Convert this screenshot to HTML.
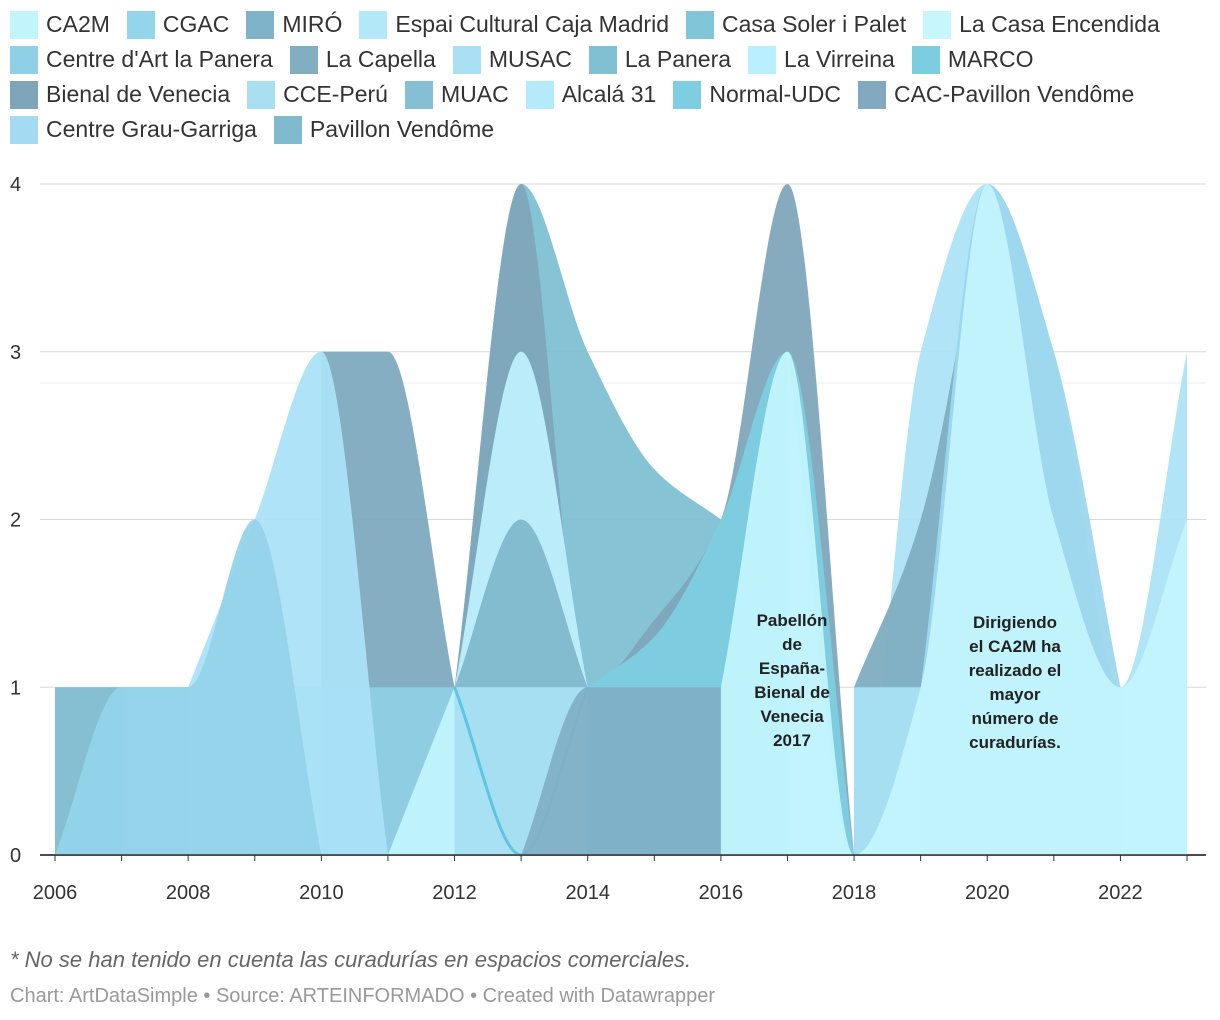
<!DOCTYPE html>
<html><head><meta charset="utf-8"><style>
body{margin:0;width:1220px;height:1020px;background:#fff;font-family:"Liberation Sans",sans-serif;overflow:hidden;position:relative}
#legend{position:absolute;left:10px;top:10px;width:1205px;display:flex;flex-wrap:wrap;row-gap:6px;font-size:23px;color:#333}
.li{display:flex;align-items:center;margin-right:17px;height:29px}
.sw{width:28px;height:28px;margin-right:8px}
svg{position:absolute;left:0;top:0}
.note{position:absolute;left:10px;font-size:22px}
</style></head><body>
<div id="legend"></div>
<svg id="chart" width="1220" height="1020"></svg>
<div class="note" style="top:947px;color:#666;font-style:italic">* No se han tenido en cuenta las curadurías en espacios comerciales.</div>
<div class="note" style="top:985px;color:#999;font-size:20px">Chart: ArtDataSimple • Source: ARTEINFORMADO • Created with Datawrapper</div>
<script>
const legendNames=["CA2M","CGAC","MIRÓ","Espai Cultural Caja Madrid","Casa Soler i Palet","La Casa Encendida","Centre d'Art la Panera","La Capella","MUSAC","La Panera","La Virreina","MARCO","Bienal de Venecia","CCE-Perú","MUAC","Alcalá 31","Normal-UDC","CAC-Pavillon Vendôme","Centre Grau-Garriga","Pavillon Vendôme"];
const legendColors=["#c2f4fc","#95d5ec","#7fb3c8","#b3e8f8","#80c5d8","#c7f6fc","#8fd0e6","#82aec2","#a9e0f3","#80c0d2","#b9efff","#7ccde0","#7fa5bb","#a8e0f2","#85bfd3","#b5eafb","#7fcde0","#82a9c0","#a5daf3","#7fbace"];
const years=[2006,2007,2008,2009,2010,2011,2012,2013,2014,2015,2016,2017,2018,2019,2020,2021,2022,2023];
const N=null;
const sTeal06=[1,1,N,N,N,N,N,N,N,N,N,N,N,N,N,N,N,N];
const sBienal=[N,N,N,N,3,3,1,N,N,N,N,N,N,N,N,N,N,N];
const sCentre=[0,1,1,1,1,1,1,N,N,N,N,N,N,N,N,N,N,N];
const sMUSAC=[N,N,1,2,3,0,N,N,N,N,N,N,N,N,N,N,N,N];
const sCGAC=[0,1,1,2,0,N,N,N,N,N,N,N,N,N,N,N,N,N];
const sCasa=[N,N,N,N,N,0,1,N,N,N,N,N,N,N,N,N,N,N];
const sMARCO=[N,N,N,N,N,N,1,4,3,2.3,2,N,N,N,N,N,N,N];
const sCapella=[N,N,N,N,N,N,1,4,1,1.4,2,4,0,N,N,N,N,N];
const sPanera=[N,N,N,N,N,N,1,3,1,N,N,N,N,N,N,N,N,N];
const sMUAC=[N,N,N,N,N,N,1,2,1,N,N,N,N,N,N,N,N,N];
const sNormal=[N,N,N,N,N,N,N,N,1,1.3,2,3,0,N,N,N,N,N];
const sAlcala=[N,N,N,N,N,N,1,1,1,N,N,N,N,N,N,N,N,N];
const sCCE=[N,N,N,N,N,N,1,0,1,N,N,N,N,N,N,N,N,N];
const sLow=[N,N,N,N,N,N,N,0,1,1,1,N,N,N,N,N,N,N];
const sLate=[N,N,N,N,N,N,N,N,N,N,N,3,0,3,4,3,1,3];
const sLate3=[N,N,N,N,N,N,N,N,N,N,N,N,1,2,4,N,N,N];
const sGrau=[N,N,N,N,N,N,N,N,N,N,N,N,1,1,N,N,N,N];
const sLate2=[N,N,N,N,N,N,N,N,N,N,N,N,N,1,4,3,1,N];
const sCA2M=[N,N,N,N,N,N,N,N,N,N,1,3,0,1,4,2,1,2];
const seriesList=[[sTeal06,"#80bcd0"],[sBienal,"#80aabf"],[sCentre,"#8fcfe4"],[sMUSAC,"#aae2f8"],[sCGAC,"#93d3ea"],[sCasa,"#c2f4fc"],[sMARCO,"#80c0d2"],[sCapella,"#7fa7bc"],[sPanera,"#bdeffc"],[sMUAC,"#80b8cc"],[sNormal,"#7ccde0"],[sAlcala,"#a9e0f3"],[sCCE,"#a9e0f3","#5ec4e6"],[sLow,"#80b0c6"],[sLate,"#aee3f7"],[sLate3,"#80adc2"],[sGrau,"#a8e0f4"],[sLate2,"#9dd7ee"],[sCA2M,"#c2f4fc"]];
const yTicks=[0,1,2,3,4];
const xTicks=[2006,2008,2010,2012,2014,2016,2018,2020,2022];
const X=y=>55+(y-2006)*(1187-55)/17, Y=v=>855-v*(855-184)/4;
const svg=document.getElementById('chart'),NS="http://www.w3.org/2000/svg";
function mk(t,a,p){const e=document.createElementNS(NS,t);for(const k in a)e.setAttribute(k,a[k]);(p||svg).appendChild(e);return e}
const lg=document.getElementById('legend');
legendNames.forEach((n,i)=>{const d=document.createElement('div');d.className='li';


d.innerHTML='<div class="sw" style="background:'+legendColors[i]+'"></div>'+n;lg.appendChild(d);});
yTicks.forEach(v=>{const l=mk('line',{x1:40,x2:1206,y1:Y(v),y2:Y(v),stroke:v?'#d9d9d9':'#333','stroke-width':v?1:1.5});


const t=mk('text',{x:10,y:Y(v)+7,'font-size':20,fill:'#333'});t.textContent=v;

});
mk('line',{x1:40,x2:1206,y1:383,y2:383,stroke:'#eee'});
function mono(pts){const n=pts.length,d=[],m=[];
for(let i=0;i<n-1;i++)d.push((pts[i+1][1]-pts[i][1])/(pts[i+1][0]-pts[i][0]));
for(let i=0;i<n;i++){if(i==0)m.push(d[0]);else if(i==n-1)m.push(d[n-2]);else m.push(d[i-1]*d[i]<=0?0:2/(1/d[i-1]+1/d[i]));}
let s='';for(let i=0;i<n-1;i++){const h=pts[i+1][0]-pts[i][0];
s+=` C${pts[i][0]+h/3},${pts[i][1]+m[i]*h/3} ${pts[i+1][0]-h/3},${pts[i+1][1]-m[i+1]*h/3} ${pts[i+1][0]},${pts[i+1][1]}`;}return s;}
seriesList.forEach(([vals,col,stroke])=>{const pts=[];vals.forEach((v,i)=>{if(v!==null)pts.push([X(years[i]),Y(v)])});
const p='M'+pts[0][0]+','+Y(0)+' L'+pts[0][0]+','+pts[0][1]+mono(pts)+' L'+pts[pts.length-1][0]+','+Y(0)+'Z';
const e=mk('path',{d:p,fill:col,'fill-opacity':0.95});


if(stroke){const l=mk('path',{d:'M'+pts[0][0]+','+pts[0][1]+mono(pts),fill:'none',stroke:stroke,'stroke-width':3});

}});
mk('line',{x1:40,x2:1206,y1:Y(0),y2:Y(0),stroke:'#333','stroke-width':1.5});
years.forEach(y=>mk('line',{x1:X(y),x2:X(y),y1:Y(0),y2:Y(0)+6,stroke:'#333'}));
xTicks.forEach(y=>{const t=mk('text',{x:X(y),y:899,'font-size':20,fill:'#333','text-anchor':'middle'});t.textContent=y;

});
function ann(x,y,lines,name){const t=mk('text',{x:x,y:y,'font-size':17,'font-weight':'bold',fill:'#222','text-anchor':'middle'});


lines.forEach((l,i)=>{const s=mk('tspan',{x:x,dy:i?24:0},t);s.textContent=l;});}
ann(792,626,["Pabellón","de","España-","Bienal de","Venecia","2017"],'annotation-bienal');
ann(1015,628,["Dirigiendo","el CA2M ha","realizado el","mayor","número de","curadurías."],'annotation-ca2m');
</script></body></html>
